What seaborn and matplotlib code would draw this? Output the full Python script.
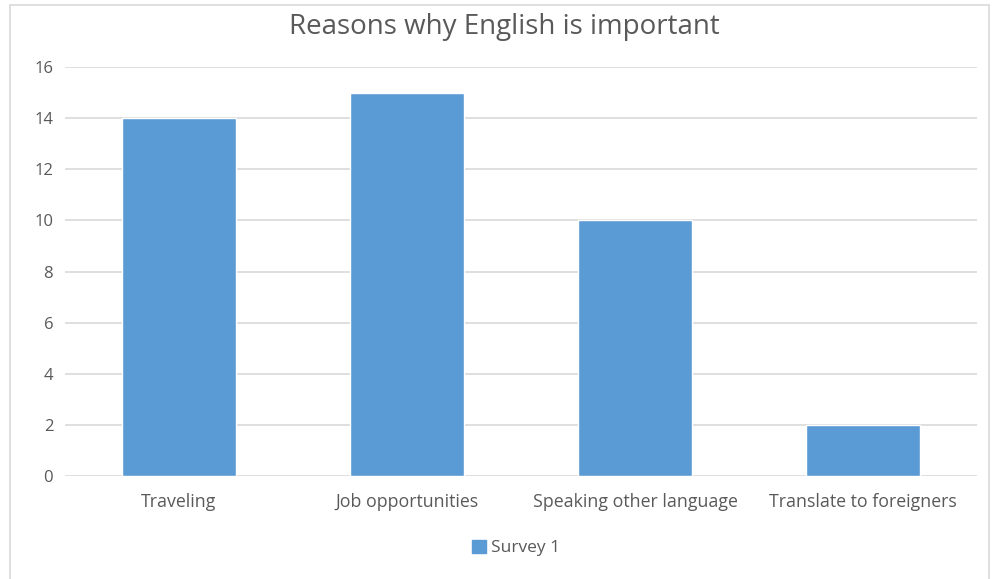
import matplotlib
matplotlib.use("Agg")
import matplotlib.pyplot as plt
import seaborn as sns
import pandas as pd
from matplotlib.patches import Rectangle, Patch

categories = ["Traveling", "Job opportunities", "Speaking other language", "Translate to foreigners"]
values = [14, 15, 10, 2]
series_name = "Survey 1"
yticks = [0, 2, 4, 6, 8, 10, 12, 14, 16]

df = pd.DataFrame({"category": categories, "value": values})

sns.set_theme(style="white")
plt.rcParams["font.family"] = ["Open Sans", "DejaVu Sans"]

fig = plt.figure(figsize=(9.92, 5.79), dpi=100)
ax = fig.add_axes([0.0655, 0.178, 0.9195, 0.706])

sns.barplot(data=df, x="category", y="value", color="#5B9BD5", width=0.5,
            saturation=1, ax=ax, zorder=3)

ax.set_ylim(0, 16)
ax.set_yticks(yticks)
ax.set_yticklabels([str(t) for t in yticks])
ax.yaxis.grid(True, color="#D9D9D9", linewidth=1.2, zorder=0)
ax.set_axisbelow(True)
for s in ax.spines.values():
    s.set_visible(False)
ax.set_xlabel("")
ax.set_ylabel("")
ax.tick_params(axis="both", length=0, labelsize=12, colors="#595959")
ax.tick_params(axis="x", labelsize=12.8, pad=12.5)
ax.tick_params(axis="y", pad=8.5)

fig.text(0.508, 1 - 27/579, "Reasons why English is important", ha="center", va="center",
         fontsize=20, color="#595959")

handles = [Patch(facecolor="#5B9BD5", edgecolor="#5B9BD5", label=series_name)]
fig.legend(handles=handles, loc="center", bbox_to_anchor=(0.52, 1 - 548/579), frameon=False,
           fontsize=12.5, labelcolor="#595959", handlelength=0.8, handleheight=0.8,
           handletextpad=0.3)

fig.patches.append(Rectangle((10/992, -0.01), 979/992, 1 - 5/579 + 0.01, transform=fig.transFigure,
                             fill=False, edgecolor="#D9D9D9", linewidth=1.2))

fig.savefig("out.png", dpi=100, facecolor="white")
